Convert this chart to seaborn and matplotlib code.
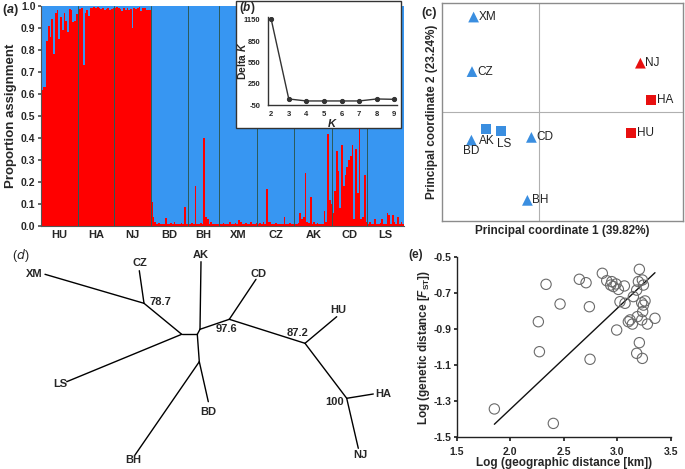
import numpy as np
import pandas as pd
import matplotlib
matplotlib.use("Agg")
import matplotlib.pyplot as plt
import seaborn as sns
from matplotlib.patches import Rectangle

sns.set_theme(style="white")
plt.rcParams["font.family"] = ["Liberation Sans", "DejaVu Sans"]
plt.rcParams["mathtext.fontset"] = "custom"
plt.rcParams["mathtext.rm"] = "Liberation Sans:bold"
plt.rcParams["mathtext.it"] = "Liberation Sans:italic:bold"
plt.rcParams["mathtext.bf"] = "Liberation Sans:bold"
plt.rcParams["axes.unicode_minus"] = False

RED = "#FF0000"
BLUE = "#3796F2"
PBLUE = "#3A8EE0"
PRED = "#E81010"

# ---------------- data: (a) STRUCTURE K=2, red cluster proportion ----------------
pops = ["HU", "HA", "NJ", "BD", "BH", "XM", "CZ", "AK", "CD", "LS"]
hu = [0.62, 0.63, 0.63, 0.84, 0.91, 0.86, 0.94, 0.78, 0.97, 0.98, 0.85, 0.95, 0.89, 0.97, 0.93, 0.88, 0.985, 0.98, 0.925, 0.93, 0.965]
ha = [0.98, 0.985, 0.99, 0.73, 0.97, 0.98, 0.955, 0.99, 0.99, 0.995, 0.99, 0.995, 0.99, 0.985, 0.99, 0.98, 0.985, 0.99, 0.98, 0.985, 0.99]
nj = [0.99, 0.995, 0.99, 0.985, 0.975, 0.99, 0.98, 0.99, 0.98, 0.985, 0.90, 0.99, 0.985, 0.99, 0.995, 0.975, 0.99, 0.99, 0.98, 0.98, 0.98]
bd = [0.11, 0.04, 0.02, 0.01, 0.015, 0.01, 0.01, 0.01, 0.035, 0.01, 0.01, 0.015, 0.01, 0.02, 0.01, 0.01, 0.01, 0.015, 0.01, 0.085, 0.01]
bh = [0.01, 0.01, 0.015, 0.01, 0.18, 0.01, 0.01, 0.015, 0.01, 0.40, 0.04, 0.03, 0.01, 0.02, 0.01, 0.01, 0.01, 0.01]
xm = [0.01, 0.01, 0.015, 0.01, 0.01, 0.01, 0.02, 0.01, 0.01, 0.015, 0.01, 0.025, 0.02, 0.01, 0.01, 0.015, 0.01, 0.01, 0.02, 0.01, 0.01, 0.015]
cz = [0.01, 0.015, 0.01, 0.02, 0.01, 0.17, 0.02, 0.02, 0.01, 0.01, 0.015, 0.01, 0.01, 0.01, 0.01, 0.04, 0.01, 0.01, 0.015, 0.01, 0.01]
ak = [0.01, 0.01, 0.015, 0.06, 0.03, 0.04, 0.24, 0.02, 0.015, 0.13, 0.01, 0.02, 0.01, 0.015, 0.01, 0.01, 0.01, 0.07, 0.02, 0.42, 0.12, 0.10]
cd = [0.06, 0.16, 0.34, 0.25, 0.08, 0.37, 0.18, 0.23, 0.27, 0.30, 0.32, 0.37, 0.03, 0.35, 0.15, 0.44, 0.03, 0.04, 0.23, 0.02]
ls = [0.01, 0.02, 0.01, 0.01, 0.03, 0.01, 0.01, 0.015, 0.03, 0.01, 0.01, 0.06, 0.05, 0.01, 0.05, 0.02, 0.01, 0.04, 0.01, 0.02, 0.01]
red_props = [hu, ha, nj, bd, bh, xm, cz, ak, cd, ls]

# ---------------- data: (b) Delta K ----------------
k_values = [2, 3, 4, 5, 6, 7, 8, 9]
delta_k = [1160, 35, 7, 7, 7, 7, 35, 30]

# ---------------- data: (c) PCoA ----------------
pc_pops = ["XM", "CZ", "NJ", "HA", "HU", "AK", "LS", "BD", "CD", "BH"]
pc1 = [-0.325, -0.333, 0.509, 0.564, 0.462, -0.265, -0.190, -0.336, -0.036, -0.056]
pc2 = [0.475, 0.203, 0.245, 0.062, -0.105, -0.085, -0.094, -0.139, -0.125, -0.439]
pc_cluster = ["blue", "blue", "red", "red", "red", "blue", "blue", "blue", "blue", "blue"]
pc_shape = ["tri", "tri", "tri", "sq", "sq", "sq", "sq", "tri", "tri", "tri"]

# ---------------- data: (d) unrooted NJ tree layout ----------------
tree_nodes = {
    "XM": (45, 274.3), "CZ": (139.3, 270.7), "LS": (66.7, 381.7), "AK": (201, 261.7),
    "CD": (256, 279.3), "HU": (336.7, 316.7), "HA": (373.3, 394), "NJ": (358.3, 448.3),
    "BD": (208.3, 401.7), "BH": (135, 455),
    "n787": (144, 303.3), "nA": (181.7, 334.3), "nB": (197.3, 334.3), "nC": (200, 329.3),
    "n976": (229.3, 319.3), "n872": (305, 343.3), "n100": (346.7, 398.3), "nD": (199.3, 361.7),
}
tree_edges = [("XM", "n787"), ("CZ", "n787"), ("n787", "nA"), ("LS", "nA"), ("nA", "nB"),
              ("nB", "nC"), ("nC", "AK"), ("nC", "n976"), ("n976", "CD"), ("n976", "n872"),
              ("n872", "HU"), ("n872", "n100"), ("n100", "HA"), ("n100", "NJ"),
              ("nB", "nD"), ("nD", "BD"), ("nD", "BH")]
bootstrap = {"n787": "78.7", "n976": "97.6", "n872": "87.2", "n100": "100"}

# ---------------- data: (e) IBD ----------------
geo_log = [1.852, 2.403, 2.335, 2.263, 2.273, 2.466, 2.646, 2.709, 2.746, 2.740, 2.861, 2.902,
           2.949, 2.939, 2.989, 3.011, 2.964, 3.026, 3.073, 3.067, 3.151, 3.182, 3.207, 3.235,
           3.245, 3.198, 3.229, 3.260, 3.245, 3.238, 3.120, 3.142, 3.104, 3.188, 3.229, 3.282,
           3.353, 2.995, 3.207, 3.182, 3.235]
fst_log = [-1.343, -1.423, -0.653, -0.860, -1.026, -0.762, -0.625, -0.644, -1.068, -0.777, -0.592, -0.633,
           -0.638, -0.657, -0.651, -0.681, -0.665, -0.749, -0.758, -0.662, -0.721, -0.685, -0.570, -0.629,
           -0.657, -0.638, -0.755, -0.745, -0.768, -0.804, -0.850, -0.873, -0.860, -0.832, -0.850, -0.873,
           -0.841, -0.906, -0.976, -1.035, -1.063]
fit_slope = 0.559
fit_intercept = -2.463
fit_x = [1.852, 3.353]

# =====================================================================
W, H = 685, 469
fig = plt.figure(figsize=(W / 100, H / 100), dpi=100)


def ax_px(l, t, r, b):
    return fig.add_axes([l / W, 1 - b / H, (r - l) / W, (b - t) / H])


# ---------------- (a) ----------------
rows, centers, bounds = [], [], []
i = 0
for p, vals in zip(pops, red_props):
    start = i
    for v in vals:
        rows.append((i, p, v))
        i += 1
    centers.append((start + i - 1) / 2)
    bounds.append(i)
n_ind = i
dfa = pd.DataFrame(rows, columns=["ind", "pop", "red"])

axa = ax_px(41, 6, 404, 226)
axa.set_facecolor(BLUE)
sns.barplot(data=dfa, x="ind", y="red", native_scale=True, color=RED, saturation=1,
            width=1.0, linewidth=0, errorbar=None, ax=axa)
axa.set_xlim(-0.5, n_ind - 0.5)
axa.set_ylim(0, 1)
for b in bounds[:-1]:
    axa.axvline(b - 0.5, color="#2C5A58", lw=0.7, zorder=3)
axa.set_yticks(np.arange(0, 1.01, 0.1))
axa.set_yticklabels([f"{v:.1f}" for v in np.arange(0, 1.01, 0.1)], fontsize=7.5, fontweight="bold")
axa.set_xticks(centers)
axa.set_xticklabels(pops, fontsize=8, fontweight="bold")
axa.tick_params(axis="x", length=0, pad=3)
axa.tick_params(axis="y", length=2, pad=2, left=True, color="#555")
axa.set_xlabel("")
axa.set_ylabel("Proportion assignment", fontsize=9.5, fontweight="bold", labelpad=3)
for s in ["top", "right"]:
    axa.spines[s].set_visible(False)
for s in ["left", "bottom"]:
    axa.spines[s].set_color("#555")
    axa.spines[s].set_linewidth(0.8)
fig.text(2 / W, 1 - 10 / H, r"($\mathit{a}$)", fontsize=9, fontweight="bold", va="center")

# ---------------- (b) inset ----------------
frame = Rectangle((236 / W, 1 - 128 / H), (401 - 236) / W, (128 - 1) / H, transform=fig.transFigure,
                  facecolor="white", edgecolor="#333333", lw=1.0, zorder=5)
fig.patches.append(frame)
axb = ax_px(268, 17, 397, 105)
axb.set_zorder(6)
axb.set_facecolor("none")
sns.lineplot(x=k_values, y=delta_k, color="#333333", lw=1.0, marker="o", markersize=3,
             markeredgecolor="#333333", ax=axb)
axb.set_xlim(1.82, 9.15)
axb.set_ylim(-50, 1190)
axb.set_xticks(k_values)
axb.set_yticks([-50, 250, 550, 850, 1150])
axb.tick_params(axis="y", labelsize=5.5, length=0, pad=5.5, left=False)
axb.tick_params(axis="x", labelsize=5.5, length=0, pad=4, bottom=False)
for lab in axb.get_xticklabels() + axb.get_yticklabels():
    lab.set_fontweight("bold")
for s in ["top", "right"]:
    axb.spines[s].set_visible(False)
for s in ["left", "bottom"]:
    axb.spines[s].set_color("#333")
    axb.spines[s].set_linewidth(1.0)
axb.set_xlabel(r"$\mathit{K}$", fontsize=8)
axb.xaxis.set_label_coords(0.5, -0.14)
axb.set_ylabel(r"Delta $\mathit{K}$", fontsize=7.5, fontweight="bold")
axb.yaxis.set_label_coords(-0.155, 0.5)
fig.text(239 / W, 1 - 8.5 / H, r"($\mathit{b}$)", fontsize=8.5, fontweight="bold", va="center", zorder=7)

# ---------------- (c) PCoA ----------------
axc = ax_px(442, 3, 683, 221)
dfc = pd.DataFrame({"pop": pc_pops, "pc1": pc1, "pc2": pc2, "cl": pc_cluster, "shape": pc_shape})
axc.axhline(0, color="#B0B0B0", lw=0.8, zorder=1)
axc.axvline(0, color="#B0B0B0", lw=0.8, zorder=1)
pal = {"blue": PBLUE, "red": PRED}
sns.scatterplot(data=dfc[dfc["shape"] == "tri"], x="pc1", y="pc2", hue="cl", palette=pal,
                marker="^", s=60, linewidth=0, legend=False, ax=axc, zorder=3)
sns.scatterplot(data=dfc[dfc["shape"] == "sq"], x="pc1", y="pc2", hue="cl", palette=pal,
                marker="s", s=50, linewidth=0, legend=False, ax=axc, zorder=3)
axc.set_xlim(-0.483, 0.722)
axc.set_ylim(-0.542, 0.545)
label_pos = {"XM": ("right", 0.025, 0), "CZ": ("right", 0.025, 0), "NJ": ("right", 0.025, 0),
             "HA": ("right", 0.03, 0), "HU": ("right", 0.03, 0), "CD": ("right", 0.025, 0),
             "BH": ("right", 0.025, 0), "AK": ("below", 0.008, -0.06), "LS": ("below", 0.017, -0.062),
             "BD": ("below", 0.0, -0.054)}
for p, x, y in zip(pc_pops, pc1, pc2):
    kind, dx, dy = label_pos[p]
    if kind == "right":
        axc.text(x + dx, y + dy, p, fontsize=8.5, ha="left", va="center", color="#222")
    else:
        axc.text(x + dx, y + dy, p, fontsize=8.5, ha="center", va="center", color="#222")
axc.set_xticks([])
axc.set_yticks([])
for s in axc.spines.values():
    s.set_color("#8C8C8C")
    s.set_linewidth(1.0)
    s.set_visible(True)
axc.set_xlabel("Principal coordinate 1 (39.82%)", fontsize=8.5, fontweight="bold", labelpad=3)
axc.set_ylabel("Principal coordinate 2 (23.24%)", fontsize=8.5, fontweight="bold", labelpad=3)
fig.text(421 / W, 1 - 13 / H, "(c)", fontsize=9, fontweight="bold", va="center")

# ---------------- (d) tree ----------------
axd = fig.add_axes([0, 0, 400 / W, (H - 240) / H])
axd.set_xlim(0, 400)
axd.set_ylim(H, 240)
axd.axis("off")
for a, b in tree_edges:
    xa, ya = tree_nodes[a]
    xb, yb = tree_nodes[b]
    axd.plot([xa, xb], [ya, yb], color="black", lw=1.0, solid_capstyle="round")
tip_labels = {"XM": (43, 274.3, "right"), "CZ": (139.5, 262.7, "center"), "AK": (201, 255, "center"),
              "CD": (258.5, 273.5, "center"), "HU": (338.5, 310, "center"), "HA": (375, 394, "left"),
              "NJ": (360, 455, "center"), "BD": (208.5, 411.7, "center"), "BH": (133.5, 459.5, "center"),
              "LS": (60, 384, "center")}
for p, (x, y, ha) in tip_labels.items():
    axd.text(x, y, p, fontsize=8, fontweight="bold", ha=ha, va="center")
boot_pos = {"n787": (160.7, 301.7), "n976": (226.7, 329.3), "n872": (297.7, 333.3), "n100": (335, 401.7)}
for n, txt in bootstrap.items():
    x, y = boot_pos[n]
    axd.text(x, y, txt, fontsize=8, fontweight="bold", ha="center", va="center")
fig.text(12 / W, 1 - 256 / H, r"(${\it d}$)", fontsize=9, va="center",
         math_fontfamily="dejavusans")

# ---------------- (e) IBD ----------------
axe = ax_px(456.7, 256.7, 670.7, 437.3)
axe.set_facecolor("none")
sns.scatterplot(x=geo_log, y=fst_log, s=55, facecolor="none", edgecolor="#6A6A6A",
                linewidth=0.8, ax=axe, zorder=3)
fit_y = [fit_slope * v + fit_intercept for v in fit_x]
sns.lineplot(x=fit_x, y=fit_y, color="#111111", lw=1.0, ax=axe)
axe.set_xlim(1.5, 3.5)
axe.set_ylim(-1.5, -0.5)
axe.set_xticks(np.arange(1.5, 3.51, 0.5))
axe.set_xticklabels([f"{v:.1f}" for v in np.arange(1.5, 3.51, 0.5)])
axe.set_yticks(np.arange(-1.5, -0.49, 0.2))
axe.set_yticklabels([f"{v:.1f}" for v in np.arange(-1.5, -0.49, 0.2)])
axe.tick_params(axis="y", labelsize=7.5, length=2.5, pad=1, left=True, color="#222", direction="out")
axe.tick_params(axis="x", labelsize=7.5, length=3, pad=4, bottom=True, color="#222", direction="out")
for lab in axe.get_xticklabels() + axe.get_yticklabels():
    lab.set_fontweight("bold")
for s in ["top", "right"]:
    axe.spines[s].set_visible(False)
for s in ["left", "bottom"]:
    axe.spines[s].set_color("#222")
    axe.spines[s].set_linewidth(1.0)
axe.set_xlabel("Log (geographic distance [km])", fontsize=8.5, fontweight="bold", labelpad=0)
axe.set_ylabel(r"Log (genetic distance [$\mathit{F}_{\mathrm{ST}}$])", fontsize=8.5, fontweight="bold", labelpad=1)
fig.text(408 / W, 1 - 255 / H, "(e)", fontsize=8.5, fontweight="bold", va="center")

fig.savefig("out.png", dpi=100)
